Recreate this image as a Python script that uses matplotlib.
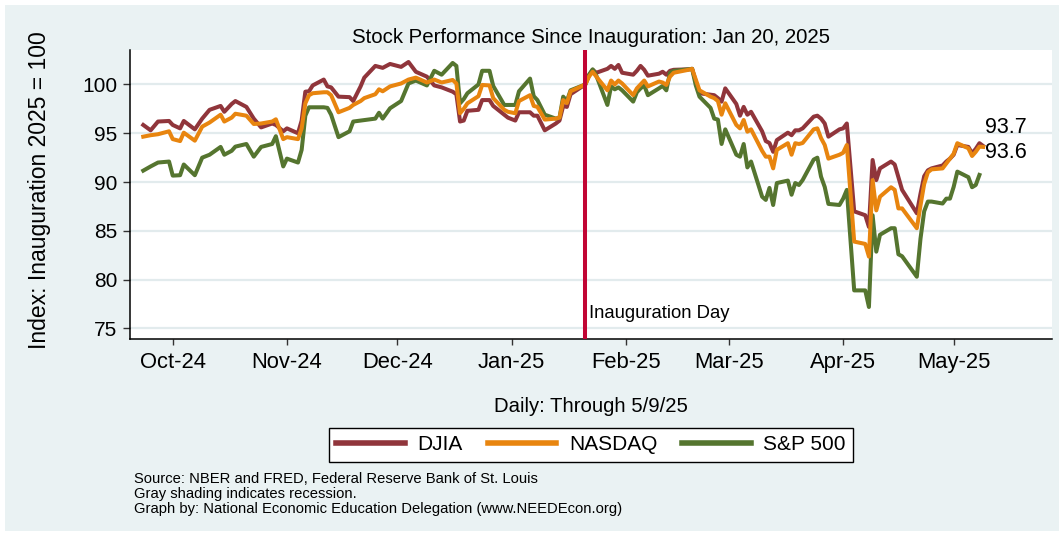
import matplotlib
matplotlib.use("Agg")
import matplotlib.pyplot as plt
import matplotlib.dates as mdates
from matplotlib.patches import Rectangle
import numpy as np
import pandas as pd

#=======================================
# Data
#=======================================
dates = [
    "2024-09-23", "2024-09-25", "2024-09-27", "2024-09-30", "2024-10-01", "2024-10-03", "2024-10-04", "2024-10-07", "2024-10-09", "2024-10-11",
    "2024-10-14", "2024-10-15", "2024-10-17", "2024-10-18", "2024-10-21", "2024-10-23", "2024-10-25", "2024-10-28", "2024-10-29", "2024-10-31",
    "2024-11-01", "2024-11-04", "2024-11-05", "2024-11-06", "2024-11-07", "2024-11-08", "2024-11-11", "2024-11-12", "2024-11-13", "2024-11-15",
    "2024-11-18", "2024-11-19", "2024-11-21", "2024-11-22", "2024-11-25", "2024-11-26", "2024-11-27", "2024-11-29", "2024-12-02", "2024-12-04",
    "2024-12-06", "2024-12-09", "2024-12-11", "2024-12-13", "2024-12-16", "2024-12-17", "2024-12-18", "2024-12-19", "2024-12-20", "2024-12-23",
    "2024-12-24", "2024-12-26", "2024-12-27", "2024-12-30", "2024-12-31", "2025-01-02", "2025-01-03", "2025-01-06", "2025-01-07", "2025-01-08",
    "2025-01-10", "2025-01-13", "2025-01-14", "2025-01-15", "2025-01-16", "2025-01-17", "2025-01-21", "2025-01-22", "2025-01-23", "2025-01-24",
    "2025-01-27", "2025-01-28", "2025-01-29", "2025-01-30", "2025-01-31", "2025-02-03", "2025-02-04", "2025-02-05", "2025-02-06", "2025-02-07",
    "2025-02-10", "2025-02-11", "2025-02-12", "2025-02-13", "2025-02-14", "2025-02-18", "2025-02-19", "2025-02-20", "2025-02-21", "2025-02-24",
    "2025-02-25", "2025-02-26", "2025-02-27", "2025-02-28", "2025-03-03", "2025-03-04", "2025-03-05", "2025-03-06", "2025-03-07", "2025-03-10",
    "2025-03-11", "2025-03-12", "2025-03-13", "2025-03-14", "2025-03-17", "2025-03-18", "2025-03-19", "2025-03-20", "2025-03-21", "2025-03-24",
    "2025-03-25", "2025-03-26", "2025-03-27", "2025-03-28", "2025-03-31", "2025-04-01", "2025-04-02", "2025-04-04", "2025-04-07", "2025-04-08",
    "2025-04-09", "2025-04-10", "2025-04-11", "2025-04-14", "2025-04-15", "2025-04-16", "2025-04-17", "2025-04-21", "2025-04-22", "2025-04-23",
    "2025-04-24", "2025-04-25", "2025-04-28", "2025-04-29", "2025-04-30", "2025-05-01", "2025-05-02", "2025-05-05", "2025-05-06", "2025-05-07",
    "2025-05-08", "2025-05-09",
]

djia = [
    95.85, 95.3, 96.2, 96.26, 95.85, 95.5, 96.26, 95.4, 96.5, 97.4,
    97.8, 97.2, 98.0, 98.3, 97.7, 96.5, 95.6, 96.0, 95.85, 95.2,
    95.5, 95.0, 96.3, 99.26, 99.3, 99.9, 100.5, 99.8, 99.7, 98.75,
    98.7, 98.3, 99.8, 100.7, 101.9, 101.8, 101.7, 102.1, 101.8, 102.3,
    101.3, 100.8, 99.9, 99.7, 99.26, 99.0, 96.2, 96.3, 97.3, 97.4,
    98.4, 98.4, 97.8, 96.9, 96.6, 96.3, 97.15, 97.15, 96.8, 96.8,
    95.3, 96.0, 96.3, 97.8, 97.7, 99.0, 100.0, 100.9, 101.5, 101.2,
    101.6, 101.9, 101.6, 102.0, 101.2, 101.0, 101.4, 101.9, 101.5, 100.9,
    101.1, 101.3, 101.0, 101.4, 101.5, 101.55, 101.6, 100.3, 99.1, 98.95,
    98.9, 98.6, 98.24, 99.6, 98.0, 96.8, 97.7, 96.9, 97.2, 95.2,
    94.2, 94.0, 93.1, 94.3, 95.06, 94.8, 95.3, 95.3, 95.5, 96.7,
    96.8, 96.5, 96.0, 94.65, 95.4, 95.5, 96.0, 87.0, 86.6, 85.4,
    92.26, 90.2, 91.4, 92.1, 91.8, 90.5, 89.2, 86.8, 88.8, 90.6,
    91.2, 91.4, 91.7, 92.1, 92.4, 92.8, 93.8, 93.6, 92.95, 93.4,
    93.98, 93.7,
]

nasdaq = [
    94.65, 94.8, 94.9, 95.2, 94.4, 94.2, 95.06, 94.24, 95.68, 96.1,
    96.9, 96.2, 96.6, 97.0, 96.8, 95.95, 96.0, 96.2, 96.43, 94.4,
    94.6, 94.4, 95.5, 98.07, 98.9, 99.1, 99.2, 99.2, 98.9, 97.15,
    97.6, 97.9, 98.3, 98.6, 99.0, 99.5, 99.3, 99.8, 100.1, 100.5,
    100.7, 100.2, 100.5, 100.2, 100.46, 100.1, 97.05, 97.5, 98.07, 98.8,
    99.95, 99.9, 98.6, 97.4, 97.2, 97.05, 98.3, 98.9, 97.8, 97.7,
    96.4, 96.5, 96.6, 98.4, 98.1, 99.3, 100.0, 100.8, 101.3, 100.8,
    99.4, 100.4, 100.0, 100.4, 100.1, 98.9, 99.6, 100.0, 100.4, 99.8,
    100.3, 100.2, 99.95, 100.8, 101.2, 101.5, 101.6, 100.5, 99.4, 98.75,
    98.6, 98.3, 96.9, 98.07, 95.85, 95.5, 96.36, 95.16, 95.4, 93.2,
    92.6, 92.6, 91.4, 93.3, 93.98, 92.8, 93.98, 93.9, 94.0, 95.4,
    95.5, 94.5, 93.8, 92.4, 92.8, 93.0, 93.8, 83.9, 83.66, 82.36,
    90.2, 87.1, 88.5, 89.47, 89.2, 87.3, 87.3, 85.27, 87.6, 89.8,
    91.0, 91.3, 91.4, 91.9, 92.4, 92.9, 93.98, 93.46, 92.67, 93.1,
    93.63, 93.6,
]

sp500 = [
    91.17, 91.6, 92.0, 92.1, 90.66, 90.7, 91.8, 90.7, 92.5, 92.8,
    93.6, 92.8, 93.2, 93.63, 93.9, 92.6, 93.6, 93.9, 94.7, 91.6,
    92.4, 92.0, 93.3, 96.8, 97.66, 97.66, 97.66, 97.6, 96.9, 94.6,
    95.2, 96.2, 96.3, 96.35, 96.5, 97.1, 96.5, 97.56, 98.3, 100.1,
    100.4, 99.9, 101.4, 101.0, 102.2, 101.9, 98.07, 98.5, 99.1, 100.0,
    101.4, 101.4, 99.85, 97.9, 97.9, 97.9, 99.3, 100.6, 98.8, 98.4,
    96.9, 96.5, 96.6, 98.75, 98.3, 99.4, 100.0, 101.0, 101.55, 100.9,
    97.9, 99.8, 99.5, 99.7, 99.4, 98.24, 99.2, 99.6, 99.9, 98.9,
    99.6, 99.85, 99.4, 101.2, 101.4, 101.55, 101.6, 99.9, 98.75, 97.6,
    96.5, 96.4, 93.9, 95.4, 92.8, 92.6, 93.9, 91.5, 92.1, 88.5,
    88.17, 89.4, 87.65, 89.9, 90.15, 88.7, 89.9, 89.7, 90.2, 92.3,
    92.5, 90.55, 89.5, 87.76, 87.65, 88.3, 89.2, 78.9, 78.9, 77.2,
    86.6, 82.87, 84.6, 85.27, 85.27, 82.6, 82.4, 80.3, 84.2, 87.0,
    88.0, 88.0, 87.8, 88.3, 88.3, 89.5, 91.07, 90.5, 89.47, 89.7,
    90.73, np.nan,
]

series_names = ["DJIA", "NASDAQ", "S&P 500"]
end_labels = ["93.7", "93.6"]
inauguration = "2025-01-21"
month_ticks = ["2024-10-01", "2024-11-01", "2024-12-01", "2025-01-01",
               "2025-02-01", "2025-03-01", "2025-04-01", "2025-05-01"]
yticks = [75, 80, 85, 90, 95, 100]

footnotes = ["Source: NBER and FRED, Federal Reserve Bank of St. Louis",
             "Gray shading indicates recession.",
             "Graph by: National Economic Education Delegation (www.NEEDEcon.org)"]

#=======================================
# Style
#=======================================
plt.rcParams["font.family"] = ["Liberation Sans", "DejaVu Sans"]
BG = "#EAF2F3"
GRID = "#E2EBED"
C_DJIA = "#90353B"
C_NASDAQ = "#E8850F"
C_SP = "#55752F"
C_INAUG = "#C10534"

W, H = 1062, 534
fig = plt.figure(figsize=(W / 100, H / 100), dpi=100, facecolor="white")
fig.patches.append(Rectangle((5 / W, 3 / H), (W - 8) / W, (H - 8) / H,
                             transform=fig.transFigure, facecolor=BG,
                             edgecolor="none", zorder=-10))

ax = fig.add_axes([130 / W, (H - 339) / H, (1052 - 130) / W, (339 - 50) / H])
ax.set_facecolor("white")

x = pd.to_datetime(dates)
lw = 2.9
ax.plot(x, djia, color=C_DJIA, lw=lw, label=series_names[0], zorder=3)
ax.plot(x, sp500, color=C_SP, lw=lw, label=series_names[2], zorder=4)
ax.plot(x, nasdaq, color=C_NASDAQ, lw=lw, label=series_names[1], zorder=5)

inaug = pd.Timestamp(inauguration)
ax.axvline(inaug, color=C_INAUG, lw=2.9, zorder=6)
ax.text(inaug + pd.Timedelta(days=0.9), 76.55, "Inauguration Day", fontsize=13.3,
        va="center", ha="left", color="black")

# end-of-series labels
last = x[-1] + pd.Timedelta(days=0.4)
ax.text(last, djia[-1] + 1.9, end_labels[0], fontsize=15.5, va="center", ha="left")
ax.text(last, nasdaq[-1] - 0.55, end_labels[1], fontsize=15.5, va="center", ha="left")

# axes
x0 = mdates.date2num(pd.Timestamp("2024-10-01")) - 11.6
x1 = mdates.date2num(pd.Timestamp("2025-05-01")) + 26.7
ax.set_xlim(x0, x1)
ax.set_ylim(73.92, 103.53)
ax.set_yticks(yticks)
ax.set_xticks(pd.to_datetime(month_ticks))
ax.xaxis.set_major_formatter(mdates.DateFormatter("%b-%y"))
ax.tick_params(axis="y", length=5, width=1, pad=4, labelsize=15, color="#333333")
ax.tick_params(axis="x", length=4.5, width=1, pad=5, labelsize=15.8, color="#333333")
ax.grid(axis="y", color=GRID, lw=1.6, zorder=0)
ax.set_axisbelow(True)
for s in ["top", "right"]:
    ax.spines[s].set_visible(False)
for s in ["left", "bottom"]:
    ax.spines[s].set_linewidth(1.1)
    ax.spines[s].set_color("black")

ax.set_title("Stock Performance Since Inauguration: Jan 20, 2025", fontsize=14.7, pad=5)
fig.text(40 / W, 1 - 190 / H, "Index: Inauguration 2025 = 100", rotation=90,
         fontsize=16.5, ha="center", va="center")
fig.text(591 / W, 1 - 406 / H, "Daily: Through 5/9/25", fontsize=14.6,
         ha="center", va="center")

handles, labels = ax.get_legend_handles_labels()
order = [labels.index(n) for n in series_names]
leg = fig.legend([handles[i] for i in order], [labels[i] for i in order],
                 loc="center", bbox_to_anchor=(591 / W, 1 - 445 / H), ncol=3,
                 fontsize=15, frameon=True, fancybox=False, framealpha=1,
                 edgecolor="black", handlelength=3.3, handletextpad=0.6,
                 columnspacing=1.2, borderpad=0.35)
leg.get_frame().set_linewidth(1.0)
for line in leg.get_lines():
    line.set_linewidth(4)

for i, note in enumerate(footnotes):
    fig.text(134 / W, 1 - (479 + 15 * i) / H, note, fontsize=10.6,
             ha="left", va="center")

fig.savefig("out.png", dpi=100, facecolor=fig.get_facecolor())
